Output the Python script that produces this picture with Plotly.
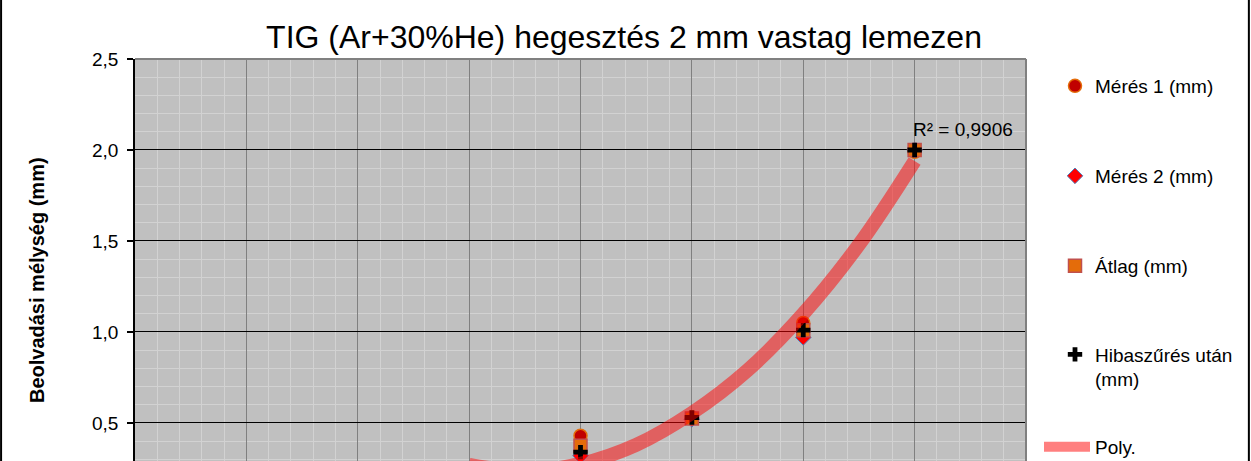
import plotly.graph_objects as go

# measured points (x = setting index, y = penetration depth in mm)
x_meas = [4, 5, 6, 7]
meres1 = [0.43, 0.53, 1.05, 1.99]
meres2 = [0.32, 0.52, 0.97, 2.00]
atlag = [0.375, 0.525, 1.01, 2.00]
hibaszures = [0.34, 0.53, 1.01, 2.00]

# polynomial trend line
trend_x = [3, 3.5, 4, 4.5, 5, 5.5, 6, 6.5, 7]
trend_y = [0.27, 0.235, 0.275, 0.38, 0.555, 0.79, 1.1, 1.48, 1.94]
r2_text = "R² = 0,9906"

title = "TIG (Ar+30%He) hegesztés 2 mm vastag lemezen"
y_title = "Beolvadási mélység (mm)"

FONT = "Liberation Sans, Arial, sans-serif"
W, H = 1251, 461
L, R, T = 135, 224.5, 59          # plot area edges in pixels
PW, PH = W - L - R, H - T


def px_x(p):
    return (p - L) / PW


def px_y(p):
    return (H - p) / PH


fig = go.Figure()

fig.add_trace(go.Scatter(x=x_meas, y=meres1, mode="markers", name="Mérés 1 (mm)",
                         marker=dict(symbol="circle", size=13, color="#C00000",
                                     line=dict(color="#E46C0A", width=1.5)),
                         legend="legend"))
fig.add_trace(go.Scatter(x=x_meas, y=meres2, mode="markers", name="Mérés 2 (mm)",
                         marker=dict(symbol="diamond", size=12, color="#FF0000",
                                     line=dict(color="#4F81BD", width=1)),
                         legend="legend2"))
fig.add_trace(go.Scatter(x=x_meas, y=atlag, mode="markers", name="Átlag (mm)",
                         marker=dict(symbol="square", size=13, color="#E46C0A",
                                     line=dict(color="#C0504D", width=1.5)),
                         legend="legend3"))
fig.add_trace(go.Scatter(x=x_meas, y=hibaszures, mode="markers", name="Hibaszűrés után<br>(mm)",
                         marker=dict(symbol="cross", size=12, color="black",
                                     line=dict(width=0)),
                         legend="legend4"))
fig.add_trace(go.Scatter(x=trend_x, y=trend_y, mode="lines", name="Poly.",
                         line=dict(color="rgba(255,0,0,0.5)", width=14, shape="spline"),
                         legend="legend5"))

fig.add_annotation(x=7, y=2.115, xref="x", yref="y", text=r2_text, showarrow=False,
                   xanchor="left", yanchor="middle", xshift=-4,
                   font=dict(family=FONT, size=19, color="black"))

# y axis title placed by hand (the chart is cropped at the bottom)
fig.add_annotation(x=px_x(37), y=px_y(280), xref="paper", yref="paper", text="<b>" + y_title + "</b>",
                   textangle=-90, showarrow=False, xanchor="center", yanchor="middle",
                   font=dict(family=FONT, size=20, color="black"))

# plot frame: grey top and right edges
fig.add_shape(type="line", xref="paper", yref="paper", x0=0, x1=1, y0=1, y1=1,
              line=dict(color="#808080", width=2), layer="above")
fig.add_shape(type="line", xref="paper", yref="paper", x0=1, x1=1, y0=0, y1=1,
              line=dict(color="#808080", width=2), layer="above")

# outer chart border (left and right sides visible)
for p in (1, W - 1.5):
    fig.add_shape(type="line", xref="paper", yref="paper",
                  x0=px_x(p), x1=px_x(p), y0=-0.2, y1=1.3,
                  line=dict(color="black", width=2))


def leg(ypix, xpix=1055, iw=30):
    return dict(x=xpix / W, y=1 - ypix / H, xref="container", yref="container",
                xanchor="left", yanchor="middle", bgcolor="rgba(0,0,0,0)", valign="top",
                font=dict(family=FONT, size=19, color="black"), itemwidth=iw)


fig.update_layout(
    width=W, height=H,
    margin=dict(l=L, r=R, t=T, b=0),
    paper_bgcolor="white",
    plot_bgcolor="#C0C0C0",
    separators=", ",
    showlegend=True,
    title=dict(text=title, x=624 / W, xanchor="center", y=1 - 37 / H, yanchor="middle",
               font=dict(family=FONT, size=32, color="black")),
    legend=leg(86), legend2=leg(176), legend3=leg(266), legend4=leg(367),
    legend5=leg(447, xpix=1039, iw=46),
    xaxis=dict(range=[0, 8], dtick=1, tick0=0, showticklabels=False, ticks="",
               showgrid=True, gridcolor="#808080", gridwidth=1, zeroline=False, showline=False,
               minor=dict(dtick=0.2, showgrid=True, gridcolor="#D2D2D2", gridwidth=1)),
    yaxis=dict(range=[0.291, 2.5], dtick=0.5, tick0=0, tickformat=".1f",
               showgrid=True, gridcolor="black", gridwidth=1, zeroline=False,
               showline=True, linecolor="black", linewidth=1.5,
               ticks="outside", ticklen=6, tickcolor="black", tickwidth=1.5,
               ticklabelstandoff=5,
               tickfont=dict(family=FONT, size=19, color="black"),
               minor=dict(dtick=0.1, showgrid=True, gridcolor="#D2D2D2", gridwidth=1)),
)

fig.write_html("out.html", config={"displayModeBar": False},
               post_script="document.body.style.margin='0';")
